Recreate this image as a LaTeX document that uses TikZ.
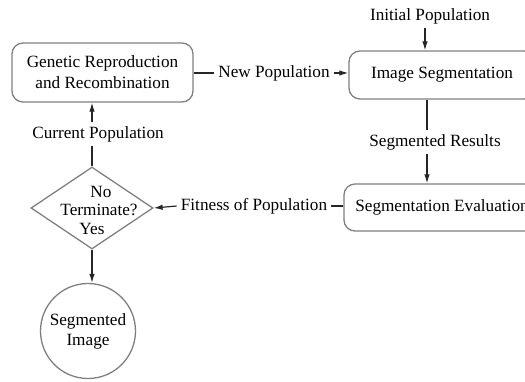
\documentclass[tikz,border=0pt]{standalone}
\usepackage{fontspec}
\setmainfont{Liberation Serif}
\usetikzlibrary{shapes.geometric,arrows.meta}
\begin{document}
\begin{tikzpicture}[x=1pt,y=-1pt,
  font=\fontsize{17.2}{21}\selectfont,
  box/.style={draw=black!50,line width=1.3pt,rounded corners=11pt,inner sep=0pt,align=center},
  lbl/.style={inner sep=4pt,align=center},
  conn/.style={draw=black!85,line width=1.2pt},
  arr/.style={conn,-{Latex[length=9pt,width=5.5pt]}}]
\useasboundingbox (0,0) rectangle (525,381);
\clip (0,0) rectangle (525,381);
% nodes
\node[box,minimum width=181pt,minimum height=59pt] (gen) at (102.5,72.5) {Genetic Reproduction\\and Recombination};
\node[box,minimum width=186pt,minimum height=48pt] (seg) at (442,75) {Image Segmentation};
\node[box,minimum width=196pt,minimum height=47pt] (eval) at (442,207.5) {Segmentation Evaluation};
\node[draw=black!50,line width=1.3pt,diamond,minimum width=122pt,minimum height=82pt,inner sep=0pt] (dec) at (92,208) {};
\node[inner sep=0pt] (decno) at (101,192) {No};
\node[inner sep=0pt] (decterm) at (99,210) {Terminate?};
\node[inner sep=0pt] (decyes) at (92,229) {Yes};
\node[draw=black!50,line width=1.3pt,circle,minimum size=95pt,inner sep=0pt,align=center] (img) at (88,331) {Segmented\\[-1pt]Image};
% labels
\node[lbl] (newpop) at (274,73) {New Population};
\node[lbl] (curpop) at (98,134) {Current Population};
\node[lbl] (initpop) at (430,16) {Initial Population};
\node[lbl] (segres) at (435,142) {Segmented Results};
\node[lbl] (fitness) at (254,206) {Fitness of Population};
% columns
\coordinate (cx1) at (92,0);
\coordinate (cx2) at (425,0);
\coordinate (cx3) at (427,0);
% connectors
\draw[conn] (gen.east |- newpop.west) -- (newpop.west);
\draw[arr] (newpop.east) -- (seg.west |- newpop.east);
\draw[arr] (cx2 |- initpop.south) -- (cx2 |- seg.north);
\draw[conn] (cx3 |- seg.south) -- (cx3 |- segres.north);
\draw[arr] (cx3 |- segres.south) -- (cx3 |- eval.north);
\draw[conn] (eval.west |- fitness.east) -- (fitness.east);
\draw[arr] (fitness.west) -- (dec.east);
\draw[conn] (dec.north) -- (cx1 |- curpop.south);
\draw[arr] (cx1 |- curpop.north) -- (cx1 |- gen.south);
\draw[arr] (dec.south) -- (cx1 |- img.north);
\end{tikzpicture}
\end{document}
